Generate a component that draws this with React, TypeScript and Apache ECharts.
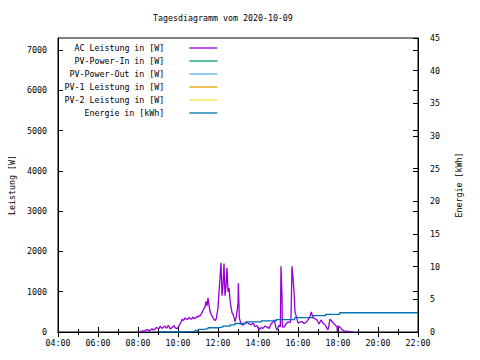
import React, { useEffect, useRef } from "react";
import * as echarts from "echarts";

const titleText = "Tagesdiagramm vom 2020-10-09";

const acTimes = [
  "08:06", "08:12", "08:15", "08:21", "08:24", "08:30", "08:33", "08:36", "08:42", "08:45",
  "08:51", "08:54", "08:57", "09:03", "09:06", "09:09", "09:12", "09:15", "09:21", "09:24",
  "09:27", "09:30", "09:33", "09:36", "09:39", "09:45", "09:48", "09:51", "09:57", "10:03",
  "10:09", "10:13", "10:15", "10:18", "10:21", "10:24", "10:27", "10:30", "10:33", "10:36",
  "10:39", "10:42", "10:45", "10:48", "10:51", "10:54", "10:57", "11:00", "11:03", "11:06",
  "11:09", "11:12", "11:16", "11:21", "11:24", "11:27", "11:30", "11:33", "11:36", "11:40",
  "11:45", "11:51", "11:55", "12:00", "12:03", "12:06", "12:09", "12:12", "12:15", "12:18",
  "12:21", "12:24", "12:27", "12:30", "12:33", "12:36", "12:39", "12:42", "12:46", "12:51",
  "12:55", "13:00", "13:01", "13:04", "13:09", "13:15", "13:21", "13:27", "13:33", "13:39",
  "13:45", "13:51", "13:57", "14:03", "14:09", "14:15", "14:21", "14:27", "14:33", "14:39",
  "14:45", "14:49", "14:54", "14:57", "15:03", "15:07", "15:09", "15:12", "15:13", "15:18",
  "15:24", "15:30", "15:36", "15:39", "15:42", "15:45", "15:48", "15:51", "15:55", "16:00",
  "16:06", "16:12", "16:18", "16:24", "16:30", "16:36", "16:40", "16:45", "16:51", "16:57",
  "17:03", "17:09", "17:15", "17:21", "17:27", "17:30", "17:36", "17:40", "17:45", "17:51",
  "17:57", "17:58", "18:01", "18:06", "18:12", "18:18", "18:24", "18:30", "18:36", "18:42",
  "18:46",
];
const acWatts = [
  10, 20, 30, 20, 50, 60, 30, 40, 80, 50,
  70, 110, 100, 80, 140, 120, 90, 110, 150, 100,
  100, 160, 140, 80, 90, 130, 160, 110, 80, 150,
  250, 320, 290, 300, 350, 330, 310, 320, 360, 340,
  320, 330, 370, 350, 330, 360, 390, 370, 410, 400,
  440, 480, 560, 620, 760, 650, 850, 660, 520, 430,
  350, 280, 330, 600, 1000, 1340, 1720, 900, 1150, 1700,
  900, 1130, 1590, 1000, 1100, 800, 620, 480, 420, 260,
  380, 700, 1210, 350, 200, 170, 220, 250, 200, 180,
  220, 130, 160, 50, 110, 90, 150, 120, 90, 200,
  250, 300, 100, 50, 170, 130, 1630, 900, 130, 120,
  200, 250, 230, 340, 1630, 1350, 1000, 500, 380, 220,
  250, 260, 210, 240, 300, 380, 500, 350, 330, 300,
  200, 300, 220, 180, 90, 50, 320, 280, 230, 180,
  130, 0, 150, 120, 60, 30, 20, 15, 10, 10,
  5,
];

const energyTimes = [
  "09:05", "10:03", "10:51", "11:01", "11:18", "11:30", "12:00", "12:14", "12:36",
  "12:51", "13:24", "14:10", "14:55", "15:50", "16:45", "17:23", "18:05", "22:00",
];
const energyKWh = [
  0, 0.1, 0.25, 0.4, 0.5, 0.65, 0.75, 0.9, 1.1,
  1.3, 1.55, 1.7, 1.9, 2.2, 2.5, 2.7, 2.95, 2.95,
];

const seriesNames = [
  "AC Leistung in [W]",
  "PV-Power-In in [W]",
  "PV-Power-Out in [W]",
  "PV-1 Leistung in [W]",
  "PV-2 Leistung in [W]",
  "Energie in [kWh]",
];
const seriesColors = ["#9400d3", "#009e73", "#56b4e9", "#e69f00", "#f0e442", "#0072b2"];

const toHours = (s: string) => {
  const [h, m] = s.split(":").map(Number);
  return h + m / 60;
};
const pad2 = (n: number) => (n < 10 ? "0" + n : "" + n);

const FONT = "DejaVu Sans Mono";
const FS = 8.3;

export default function App() {
  const ref = useRef<HTMLDivElement>(null);
  useEffect(() => {
    if (!ref.current) return;
    const chart = echarts.init(ref.current, undefined, { renderer: "svg" });
    const acData = acTimes.map((t, i) => [toHours(t), acWatts[i]]);
    const enData = energyTimes.map((t, i) => [toHours(t), energyKWh[i]]);
    const xCommon = {
      type: "value" as const,
      min: 4,
      max: 22,
      interval: 2,
      splitLine: { show: false },
      axisLine: { lineStyle: { color: "#000", width: 1 } },
      axisTick: { inside: true, length: 5, lineStyle: { color: "#000" } },
      minorTick: { show: true, splitNumber: 2, length: 3, lineStyle: { color: "#000" } },
    };
    const option: any = {
      animation: false,
      backgroundColor: "#fff",
      title: {
        text: titleText,
        left: 153,
        top: 14,
        padding: 0,
        textStyle: { fontFamily: FONT, fontSize: FS, fontWeight: "normal", color: "#000" },
      },
      legend: {
        orient: "vertical",
        right: 262,
        top: 44,
        padding: 0,
        align: "right",
        itemWidth: 28,
        itemHeight: 8,
        itemGap: 5,
        data: seriesNames,
        itemStyle: { opacity: 0 },
        lineStyle: { width: 1.3 },
        textStyle: {
          fontFamily: FONT,
          fontSize: FS,
          color: "#000",
          lineHeight: 8,
          padding: [0, 20, 0, 0],
        },
      },
      grid: {
        left: 58,
        right: 62,
        top: 38,
        bottom: 28,
        show: true,
        borderColor: "#000",
        borderWidth: 1,
        containLabel: false,
      },
      xAxis: [
        {
          ...xCommon,
          position: "bottom",
          axisLabel: {
            margin: 7,
            fontFamily: FONT,
            fontSize: FS,
            color: "#000",
            formatter: (v: number) => pad2(v) + ":00",
          },
        },
        {
          ...xCommon,
          position: "top",
          axisLabel: { show: false },
        },
      ],
      yAxis: [
        {
          type: "value",
          min: 0,
          max: 7300,
          interval: 1000,
          position: "left",
          name: "Leistung [W]",
          nameLocation: "middle",
          nameGap: 33,
          nameRotate: 90,
          nameTextStyle: { fontFamily: FONT, fontSize: FS, color: "#000" },
          splitLine: { show: false },
          axisLine: { show: true, lineStyle: { color: "#000" } },
          axisTick: { inside: true, length: 5, lineStyle: { color: "#000" } },
          axisLabel: {
            margin: 11,
            fontFamily: FONT,
            fontSize: FS,
            color: "#000",
            showMaxLabel: false,
            formatter: (v: number) => (v > 7000 ? "" : String(v)),
          },
        },
        {
          type: "value",
          min: 0,
          max: 45,
          interval: 5,
          position: "right",
          name: "Energie [kWh]",
          nameLocation: "middle",
          nameGap: 37,
          nameRotate: 90,
          nameTextStyle: { fontFamily: FONT, fontSize: FS, color: "#000" },
          splitLine: { show: false },
          axisLine: { show: true, lineStyle: { color: "#000" } },
          axisTick: { inside: true, length: 5, lineStyle: { color: "#000" } },
          axisLabel: {
            margin: 12,
            fontFamily: FONT,
            fontSize: FS,
            color: "#000",
          },
        },
        {
          type: "value",
          min: 0,
          max: 7300,
          interval: 1000,
          position: "right",
          splitLine: { show: false },
          axisLine: { show: false },
          axisTick: { show: true, inside: true, length: 5, lineStyle: { color: "#000" } },
          axisLabel: { show: false },
        },
      ],
      series: seriesNames.map((name, i) => {
        const isAC = i === 0;
        const isEn = i === 5;
        return {
          name,
          type: "line",
          xAxisIndex: 0,
          yAxisIndex: isEn ? 1 : 0,
          data: isAC ? acData : isEn ? enData : [],
          step: isEn ? "end" : undefined,
          symbol: "none",
          showSymbol: false,
          color: seriesColors[i],
          lineStyle: { width: 1.3, color: seriesColors[i] },
          z: isEn ? 3 : 2,
        };
      }),
    };
    chart.setOption(option);
    return () => chart.dispose();
  }, []);
  return <div ref={ref} style={{ width: 480, height: 360, position: "absolute", left: 0, top: 0 }} />;
}
